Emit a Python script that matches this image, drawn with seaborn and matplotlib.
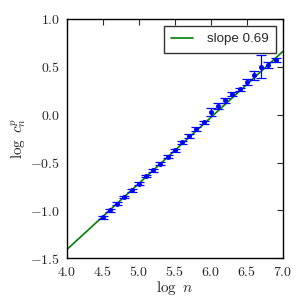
import numpy as np
import pandas as pd
import matplotlib
matplotlib.use('Agg')
import matplotlib.pyplot as plt
import seaborn as sns

# data
log_n = [4.5, 4.6, 4.7, 4.8, 4.9, 5.0, 5.1, 5.2, 5.3, 5.4, 5.5, 5.6, 5.7,
         5.8, 5.9, 6.0, 6.1, 6.2, 6.3, 6.4, 6.5, 6.6, 6.7, 6.8, 6.9]
log_c = [-1.07, -1.00, -0.93, -0.86, -0.79, -0.72, -0.64, -0.58, -0.51, -0.44,
         -0.37, -0.29, -0.22, -0.15, -0.08, 0.03, 0.09, 0.15, 0.22, 0.265,
         0.34, 0.41, 0.50, 0.52, 0.57]
err = [0.015, 0.015, 0.015, 0.015, 0.015, 0.015, 0.015, 0.015, 0.015, 0.015,
       0.015, 0.02, 0.02, 0.02, 0.015, 0.04, 0.03, 0.025, 0.02, 0.015,
       0.035, 0.05, 0.12, 0.03, 0.02]
fit_x = [4.0, 7.0]
slope = 0.69
intercept = -4.17

sns.set_style('white')
plt.rcParams.update({
    'mathtext.fontset': 'cm',
    'xtick.direction': 'in', 'ytick.direction': 'in',
    'xtick.top': True, 'ytick.right': True,
    'xtick.major.size': 4, 'ytick.major.size': 4,
    'axes.edgecolor': 'black', 'axes.linewidth': 1.0,
    'legend.fancybox': False,
})

df = pd.DataFrame({'log_n': log_n, 'log_c': log_c, 'err': err})
fit = pd.DataFrame({'x': fit_x, 'y': [slope * v + intercept for v in fit_x]})

fig = plt.figure(figsize=(3.06, 3.06), dpi=100)
ax = fig.add_axes([0.218, 0.156, 0.706, 0.782])

sns.lineplot(data=fit, x='x', y='y', color='green', lw=1.2, ax=ax,
             label='slope 0.69')
ax.errorbar(df.log_n, df.log_c, yerr=df.err, fmt='none', ecolor='blue',
            elinewidth=0.9, capsize=3.5, capthick=0.9)
sns.scatterplot(data=df, x='log_n', y='log_c', color='blue', s=13,
                edgecolor='blue', linewidth=0, ax=ax, zorder=3)

ax.set_xlim(4.0, 7.0)
ax.set_ylim(-1.5, 1.0)
xt = np.arange(4.0, 7.01, 0.5)
yt = np.arange(-1.5, 1.01, 0.5)
ax.set_xticks(xt)
ax.set_yticks(yt)
ax.set_xticklabels(['$%.1f$' % v for v in xt], fontsize=10)
ax.set_yticklabels(['$%.1f$' % v for v in yt], fontsize=10)
ax.tick_params(pad=5)
ax.set_xlabel(r'$\log\ n$', fontsize=11, labelpad=0)
ax.set_ylabel(r'$\log\ c_n^p$', fontsize=11, labelpad=1)

leg = ax.legend(loc='upper right', prop={'family': 'Liberation Sans', 'size': 9.6},
                frameon=True, handlelength=1.65, handletextpad=1.05,
                borderpad=0.55, borderaxespad=0.5)
leg.get_frame().set_edgecolor('black')
leg.get_frame().set_linewidth(1.0)

fig.savefig('out.png', dpi=100)
